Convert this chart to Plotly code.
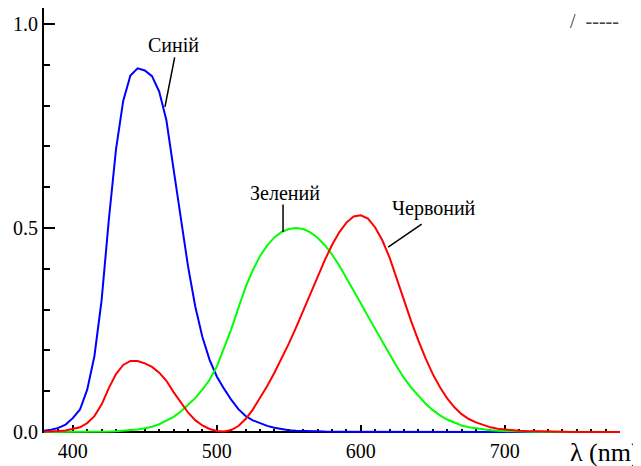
import plotly.graph_objects as go

wavelength = list(range(380, 785, 5))

red = [0.0007, 0.0011, 0.0021, 0.0038, 0.0072, 0.0116, 0.0218, 0.0388, 0.0672, 0.1074,
       0.1420, 0.1643, 0.1741, 0.1740, 0.1681, 0.1594, 0.1454, 0.1256, 0.0977, 0.0711,
       0.0478, 0.0290, 0.0160, 0.0074, 0.0025, 0.0012, 0.0047, 0.0146, 0.0316, 0.0548,
       0.0828, 0.1129, 0.1452, 0.1799, 0.2167, 0.2560, 0.2973, 0.3392, 0.3811, 0.4213,
       0.4582, 0.4893, 0.5132, 0.5284, 0.5311, 0.5228, 0.5013, 0.4692, 0.4272, 0.3757,
       0.3212, 0.2710, 0.2240, 0.1804, 0.1418, 0.1094, 0.0825, 0.0606, 0.0437, 0.0318,
       0.0234, 0.0165, 0.0114, 0.0079, 0.0057, 0.0041, 0.0029, 0.0021, 0.0014, 0.0010,
       0.0007, 0.0005, 0.0003, 0.0002, 0.0002, 0.0001, 0.0001, 0.0001, 0.0000, 0.0000,
       0.0000]

green = [0.0000, 0.0000, 0.0001, 0.0001, 0.0002, 0.0003, 0.0005, 0.0007, 0.0010, 0.0014,
         0.0020, 0.0030, 0.0042, 0.0060, 0.0090, 0.0130, 0.0190, 0.0270, 0.0370, 0.0500,
         0.0660, 0.0830, 0.1040, 0.1280, 0.1600, 0.2037, 0.2515, 0.3041, 0.3550, 0.3966,
         0.4310, 0.4574, 0.4770, 0.4902, 0.4975, 0.5000, 0.4975, 0.4893, 0.4760, 0.4577,
         0.4350, 0.4082, 0.3785, 0.3475, 0.3155, 0.2834, 0.2515, 0.2206, 0.1905, 0.1605,
         0.1325, 0.1085, 0.0875, 0.0691, 0.0535, 0.0408, 0.0305, 0.0223, 0.0160, 0.0116,
         0.0085, 0.0060, 0.0041, 0.0029, 0.0021, 0.0015, 0.0010, 0.0007, 0.0005, 0.0004,
         0.0003, 0.0002, 0.0001, 0.0001, 0.0001, 0.0000, 0.0000, 0.0000, 0.0000, 0.0000,
         0.0000]

blue = [0.0032, 0.0053, 0.0100, 0.0181, 0.0339, 0.0551, 0.1037, 0.1857, 0.3228, 0.5195,
        0.6928, 0.8115, 0.8735, 0.8913, 0.8861, 0.8721, 0.8346, 0.7641, 0.6438, 0.5210,
        0.4065, 0.3081, 0.2326, 0.1767, 0.1360, 0.1062, 0.0791, 0.0559, 0.0391, 0.0286,
        0.0211, 0.0149, 0.0102, 0.0067, 0.0044, 0.0029, 0.0020, 0.0014, 0.0011, 0.0009,
        0.0008, 0.0007, 0.0006, 0.0005, 0.0004, 0.0003, 0.0002, 0.0001, 0.0001, 0.0001,
        0.0000, 0.0000, 0.0000, 0.0000, 0.0000, 0.0000, 0.0000, 0.0000, 0.0000, 0.0000,
        0.0000, 0.0000, 0.0000, 0.0000, 0.0000, 0.0000, 0.0000, 0.0000, 0.0000, 0.0000,
        0.0000, 0.0000, 0.0000, 0.0000, 0.0000, 0.0000, 0.0000, 0.0000, 0.0000, 0.0000,
        0.0000]

x_tickvals = [400, 500, 600, 700, 780]
x_ticktext = ["400", "500", "600", "700", ""]
y_tickvals = [0.0, 0.5, 1.0]
y_ticktext = ["0.0", "0.5", "1.0"]

labels = ["Синій", "Зелений", "Червоний"]
label_pos = [(469.6, 0.9485), (547.4, 0.586), (650.8, 0.5466)]
pointer_pos = [(464, 0.797), (546, 0.49), (619, 0.453)]
pointer_off = [(10, -51), (0, -29), (35, -24)]

FONT = "Liberation Serif"

fig = go.Figure()
for vals, col in [(blue, "#0000ff"), (green, "#00ff00"), (red, "#ff0000")]:
    fig.add_trace(go.Scatter(x=wavelength, y=vals, mode="lines",
                             line=dict(color=col, width=2), showlegend=False,
                             hoverinfo="skip"))

for txt, (lx, ly) in zip(labels, label_pos):
    fig.add_annotation(x=lx, y=ly, xref="x", yref="y", text=txt, showarrow=False,
                       font=dict(family=FONT, size=20, color="black"))
for (px, py), (ox, oy) in zip(pointer_pos, pointer_off):
    fig.add_annotation(x=px, y=py, xref="x", yref="y", text="", showarrow=True,
                       arrowhead=0, arrowwidth=1.5, arrowcolor="black",
                       ax=ox, ay=oy, standoff=0)

fig.add_annotation(x=0.9097, y=-0.045, xref="paper", yref="paper", text="λ (nm)",
                   showarrow=False, xanchor="left", yanchor="middle",
                   font=dict(family=FONT, size=26, color="black"))
fig.add_annotation(x=0.9097, y=1.0, xref="paper", yref="paper", text="/  -----",
                   showarrow=False, xanchor="left", yanchor="top",
                   font=dict(family=FONT, size=20, color="#444444"))

# page body has an 8px margin, so the figure is shifted by 8px
fig.update_layout(
    width=633, height=458,
    margin=dict(l=36, r=21, t=0, b=33, autoexpand=False),
    paper_bgcolor="white", plot_bgcolor="white",
    font=dict(family=FONT, size=20, color="black"),
    xaxis=dict(range=[380, 780], showgrid=False, zeroline=False, showline=False,
               automargin=False,
               tickmode="array", tickvals=x_tickvals, ticktext=x_ticktext,
               ticks="inside", ticklen=8, tickwidth=2, tickcolor="black",
               ticklabelstandoff=4, layer="below traces",
               tickfont=dict(family=FONT, size=20, color="black"),
               minor=dict(tickmode="linear", tick0=380, dtick=10, ticks="inside",
                          ticklen=4, tickwidth=1.5, tickcolor="black")),
    yaxis=dict(range=[-0.0025, 1.0392], showgrid=False, zeroline=True,
               automargin=False,
               zerolinecolor="black", zerolinewidth=2,
               showline=True, linecolor="black", linewidth=2,
               tickmode="array", tickvals=y_tickvals, ticktext=y_ticktext,
               ticks="inside", ticklen=11, tickwidth=2, tickcolor="black",
               ticklabelstandoff=0, layer="below traces",
               tickfont=dict(family=FONT, size=20, color="black"),
               minor=dict(tickmode="linear", tick0=0, dtick=0.1, ticks="inside",
                          ticklen=6, tickwidth=2, tickcolor="black")),
)

fig.write_html("out.html")
